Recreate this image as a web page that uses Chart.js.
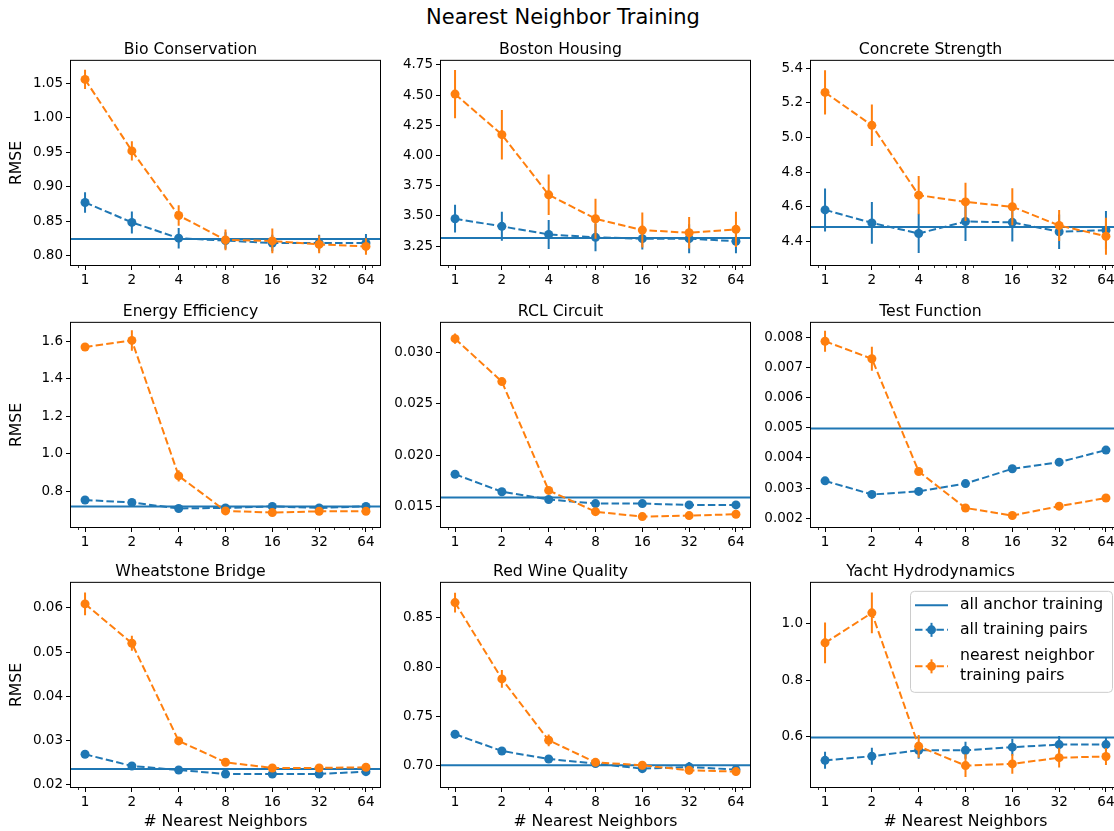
<!DOCTYPE html>
<html>
<head>
<meta charset="utf-8">
<script src="https://cdn.jsdelivr.net/npm/chart.js@4/dist/chart.umd.min.js"></script>
<style>
  html, body { margin: 0; padding: 0; background: #fff; overflow: hidden; }
  body { width: 1114px; height: 831px; position: relative; }
  #suptitle {
    position: absolute; left: 0; top: 5px; width: 1126px; text-align: center;
    font-family: "DejaVu Sans", sans-serif; font-size: 21px; line-height: 24px; color: #000;
  }
  canvas { position: absolute; }
</style>
</head>
<body>
<div id="suptitle">Nearest Neighbor Training</div>

<script>
// ---- data ----
const neighbors = [1, 2, 4, 8, 16, 32, 64];
const xMinorTicks = [0.9, 3, 5, 6, 7, 9, 20, 30, 40, 50, 60, 70];

const panelTitles = [
    'Bio Conservation', 'Boston Housing', 'Concrete Strength',
    'Energy Efficiency', 'RCL Circuit', 'Test Function',
    'Wheatstone Bridge', 'Red Wine Quality', 'Yacht Hydrodynamics'
];

const legendLabels = ['all anchor training', 'all training pairs', 'nearest neighbor\ntraining pairs'];

// horizontal line: all anchor training
const anchorRmse = [0.824, 3.316, 4.483, 0.7175, 0.01588, 0.00498, 0.02355, 0.7007, 0.598];

// all training pairs (blue)
const allPairsRmse = [
    [0.877, 0.848, 0.825, 0.8215, 0.818, 0.818, 0.818],
    [3.476, 3.413, 3.346, 3.322, 3.311, 3.311, 3.29],
    [4.582, 4.507, 4.446, 4.515, 4.51, 4.456, 4.465],
    [0.752, 0.739, 0.707, 0.71, 0.718, 0.71, 0.718],
    [0.01814, 0.01644, 0.01569, 0.01529, 0.01529, 0.01516, 0.01516],
    [0.00324, 0.00279, 0.00289, 0.00315, 0.00364, 0.00386, 0.00426],
    [0.02687, 0.02423, 0.02332, 0.02242, 0.02242, 0.02242, 0.02294],
    [0.7321, 0.7152, 0.7071, 0.7024, 0.6973, 0.699, 0.6963],
    [0.5176, 0.532, 0.553, 0.553, 0.564, 0.573, 0.573]
];
const allPairsErr = [
    [0.015, 0.016, 0.015, 0.012, 0.012, 0.012, 0.013],
    [0.115, 0.12, 0.12, 0.115, 0.09, 0.12, 0.1],
    [0.124, 0.12, 0.113, 0.113, 0.11, 0.1, 0.11],
    [0.012, 0.01, 0.01, 0.01, 0.01, 0.01, 0.01],
    [0.0002, 0.0002, 0.0002, 0.0002, 0.0002, 0.0002, 0.0002],
    [0.0001, 0.0001, 0.0001, 0.0001, 0.0001, 0.0001, 0.0001],
    [0.0006, 0.0005, 0.0005, 0.0005, 0.0005, 0.0005, 0.0005],
    [0.004, 0.004, 0.004, 0.003, 0.003, 0.005, 0.004],
    [0.03, 0.03, 0.03, 0.03, 0.03, 0.03, 0.025]
];

// nearest neighbor training pairs (orange)
const nnPairsRmse = [
    [1.056, 0.952, 0.858, 0.8225, 0.821, 0.816, 0.813],
    [4.508, 4.172, 3.674, 3.476, 3.382, 3.36, 3.388],
    [5.26, 5.07, 4.667, 4.628, 4.6, 4.492, 4.43],
    [1.57, 1.605, 0.881, 0.694, 0.685, 0.692, 0.692],
    [0.03134, 0.02716, 0.01657, 0.0145, 0.01402, 0.01412, 0.01425],
    [0.00787, 0.00729, 0.00355, 0.00234, 0.00209, 0.0024, 0.00267],
    [0.0609, 0.052, 0.0299, 0.02506, 0.02378, 0.02378, 0.02393],
    [0.8655, 0.7882, 0.726, 0.7037, 0.7007, 0.6956, 0.6943],
    [0.9318, 1.0376, 0.567, 0.499, 0.505, 0.527, 0.531]
];
const nnPairsErr = [
    [0.014, 0.014, 0.015, 0.015, 0.018, 0.013, 0.012],
    [0.2, 0.205, 0.168, 0.165, 0.145, 0.13, 0.145],
    [0.127, 0.12, 0.11, 0.11, 0.107, 0.09, 0.107],
    [0.02, 0.055, 0.03, 0.01, 0.01, 0.01, 0.01],
    [0.0005, 0.0003, 0.0003, 0.0002, 0.0002, 0.0002, 0.0002],
    [0.00035, 0.0004, 0.0001, 0.0001, 0.0001, 0.0001, 0.0001],
    [0.0026, 0.0017, 0.0005, 0.0005, 0.0005, 0.0005, 0.0005],
    [0.01, 0.009, 0.006, 0.004, 0.004, 0.004, 0.004],
    [0.072, 0.072, 0.04, 0.04, 0.035, 0.035, 0.03]
];

const yTicks = [
    ['0.80', '0.85', '0.90', '0.95', '1.00', '1.05'],
    ['3.25', '3.50', '3.75', '4.00', '4.25', '4.50', '4.75'],
    ['4.4', '4.6', '4.8', '5.0', '5.2', '5.4'],
    ['0.8', '1.0', '1.2', '1.4', '1.6'],
    ['0.015', '0.020', '0.025', '0.030'],
    ['0.002', '0.003', '0.004', '0.005', '0.006', '0.007', '0.008'],
    ['0.02', '0.03', '0.04', '0.05', '0.06'],
    ['0.70', '0.75', '0.80', '0.85'],
    ['0.6', '0.8', '1.0']
];
const yMin = [0.786, 3.093, 4.264, 0.608, 0.01301, 0.00171, 0.01947, 0.6787, 0.4235];
const yMax = [1.083, 4.783, 5.442, 1.699, 0.03288, 0.00848, 0.06566, 0.8855, 1.1435];

// ---- layout ----
const BLUE = '#1f77b4';
const ORANGE = '#ff7f0e';
const col_left = [71, 441, 811];
const row_top = [61, 323, 583];
const plot_w = 309;
const plot_h = 204;
const y_axis_w = 70;
const title_block = 22;
const pad_right = 10;
const x_min = Math.pow(2, -0.3);
const x_max = Math.pow(2, 6.3);

Chart.defaults.font.family = '"DejaVu Sans", sans-serif';
Chart.defaults.color = '#000';

// vertical error bars, drawn just before each series
const errorBars = {
    id: 'errorBars',
    beforeDatasetDraw(chart, args) {
        const ds = chart.data.datasets[args.index];
        if (!ds.errors) return;
        const xs = chart.scales.x, ys = chart.scales.y, ctx = chart.ctx;
        const area = chart.chartArea;
        ctx.save();
        ctx.beginPath();
        ctx.rect(area.left, area.top, area.right - area.left, area.bottom - area.top);
        ctx.clip();
        ctx.strokeStyle = ds.borderColor;
        ctx.lineWidth = 2;
        ds.data.forEach((p, i) => {
            const px = xs.getPixelForValue(p.x);
            ctx.beginPath();
            ctx.moveTo(px, ys.getPixelForValue(p.y - ds.errors[i]));
            ctx.lineTo(px, ys.getPixelForValue(p.y + ds.errors[i]));
            ctx.stroke();
        });
        ctx.restore();
    }
};

// full box around the axes and the minor x ticks
const frame = {
    id: 'frame',
    afterDraw(chart) {
        const {left, top, right, bottom} = chart.chartArea;
        const ctx = chart.ctx;
        ctx.save();
        ctx.strokeStyle = '#000';
        ctx.lineWidth = 1;
        ctx.strokeRect(left - 0.5, top - 0.5, right - left + 1, bottom - top + 1);
        ctx.lineWidth = 0.8;
        xMinorTicks.forEach(v => {
            const px = Math.round(chart.scales.x.getPixelForValue(v)) + 0.5;
            ctx.beginPath();
            ctx.moveTo(px, bottom);
            ctx.lineTo(px, bottom + 3);
            ctx.stroke();
        });
        ctx.restore();
    }
};

// matplotlib style legend box (only in the last panel)
const legendBox = {
    id: 'legendBox',
    afterDraw(chart, args, opts) {
        if (!opts.show) return;
        const ctx = chart.ctx;
        const w = 202, h = 101;
        const x0 = chart.chartArea.right - 8 - w;
        const y0 = chart.chartArea.top + 8;
        ctx.save();
        ctx.beginPath();
        ctx.roundRect(x0 + 0.5, y0 + 0.5, w, h, 4);
        ctx.fillStyle = 'rgba(255,255,255,0.8)';
        ctx.fill();
        ctx.strokeStyle = '#cccccc';
        ctx.lineWidth = 1;
        ctx.stroke();

        const hx0 = x0 + 5, hx1 = x0 + 38, mx = x0 + 21.5;
        // solid line
        ctx.strokeStyle = BLUE;
        ctx.lineWidth = 2;
        ctx.beginPath();
        ctx.moveTo(hx0, y0 + 14.5);
        ctx.lineTo(hx1, y0 + 14.5);
        ctx.stroke();

        const handle = (color, y) => {
            ctx.strokeStyle = color;
            ctx.fillStyle = color;
            ctx.lineWidth = 2;
            ctx.setLineDash([7.5, 3.2]);
            ctx.beginPath();
            ctx.moveTo(hx0, y);
            ctx.lineTo(hx1, y);
            ctx.stroke();
            ctx.setLineDash([]);
            ctx.beginPath();
            ctx.moveTo(mx, y - 7);
            ctx.lineTo(mx, y + 7);
            ctx.stroke();
            ctx.beginPath();
            ctx.arc(mx, y, 4.5, 0, Math.PI * 2);
            ctx.fill();
        };
        handle(BLUE, y0 + 39);
        handle(ORANGE, y0 + 75.5);

        ctx.fillStyle = '#000';
        ctx.font = '15.7px "DejaVu Sans", sans-serif';
        ctx.textBaseline = 'middle';
        ctx.fillText(legendLabels[0], x0 + 50, y0 + 14.5);
        ctx.fillText(legendLabels[1], x0 + 50, y0 + 39);
        const lines = legendLabels[2].split('\n');
        ctx.fillText(lines[0], x0 + 50, y0 + 65.5);
        ctx.fillText(lines[1], x0 + 50, y0 + 85.5);
        ctx.restore();
    }
};

function make_panel(i) {
    const col = i % 3, row = Math.floor(i / 3);
    const bottom_row = row === 2;
    const x_axis_h = bottom_row ? 44 : 28;

    const canvas = document.createElement('canvas');
    const cw = y_axis_w + plot_w + pad_right;
    const ch = title_block + plot_h + x_axis_h;
    canvas.width = cw;
    canvas.height = ch;
    canvas.style.left = (col_left[col] - y_axis_w) + 'px';
    canvas.style.top = (row_top[row] - title_block) + 'px';
    canvas.style.width = cw + 'px';
    canvas.style.height = ch + 'px';
    document.body.appendChild(canvas);

    const pts = (vals) => neighbors.map((n, k) => ({x: n, y: vals[k]}));

    new Chart(canvas, {
        type: 'line',
        data: {
            datasets: [{
                label: legendLabels[2],
                data: pts(nnPairsRmse[i]),
                errors: nnPairsErr[i],
                borderColor: ORANGE,
                backgroundColor: ORANGE,
                borderWidth: 2,
                borderDash: [7.5, 3.2],
                pointRadius: 4.5,
                pointBorderWidth: 0,
                order: 0,
            }, {
                label: legendLabels[1],
                data: pts(allPairsRmse[i]),
                errors: allPairsErr[i],
                borderColor: BLUE,
                backgroundColor: BLUE,
                borderWidth: 2,
                borderDash: [7.5, 3.2],
                pointRadius: 4.5,
                pointBorderWidth: 0,
                order: 1,
            }, {
                label: legendLabels[0],
                data: [{x: x_min, y: anchorRmse[i]}, {x: x_max, y: anchorRmse[i]}],
                borderColor: BLUE,
                borderWidth: 2,
                pointRadius: 0,
                order: 2,
            }]
        },
        options: {
            responsive: false,
            animation: false,
            devicePixelRatio: 1,
            layout: {padding: {top: 0, left: 0, right: pad_right, bottom: 0}},
            plugins: {
                legend: {display: false},
                tooltip: {enabled: false},
                title: {
                    display: true,
                    text: panelTitles[i],
                    color: '#000',
                    font: {size: 15.7, weight: 'normal'},
                    padding: {top: 2, bottom: 1}
                },
                legendBox: {show: i === 8}
            },
            scales: {
                x: {
                    type: 'logarithmic',
                    min: x_min,
                    max: x_max,
                    afterBuildTicks: s => { s.ticks = neighbors.map(v => ({value: v})); },
                    afterFit: s => { s.height = x_axis_h; },
                    ticks: {
                        autoSkip: false, maxRotation: 0, padding: 2,
                        font: {size: 13.5}, color: '#000',
                        callback: v => String(v)
                    },
                    grid: {drawOnChartArea: false, tickLength: 5, color: '#000', lineWidth: 1},
                    border: {display: false},
                    title: {
                        display: bottom_row,
                        text: '# Nearest Neighbors',
                        font: {size: 15.7},
                        color: '#000',
                        padding: {top: 0, bottom: 0}
                    }
                },
                y: {
                    type: 'linear',
                    min: yMin[i],
                    max: yMax[i],
                    afterBuildTicks: s => { s.ticks = yTicks[i].map(t => ({value: parseFloat(t)})); },
                    afterFit: s => { s.width = y_axis_w; },
                    ticks: {
                        padding: 3, font: {size: 13.5}, color: '#000',
                        callback: (v, idx) => yTicks[i][idx]
                    },
                    grid: {drawOnChartArea: false, tickLength: 5, color: '#000', lineWidth: 1},
                    border: {display: false},
                    title: {
                        display: col === 0,
                        text: 'RMSE',
                        font: {size: 15.7},
                        color: '#000',
                        padding: {top: 7, bottom: 0}
                    }
                }
            }
        },
        plugins: [errorBars, frame, legendBox]
    });
}

for (let i = 0; i < 9; i++) {
    make_panel(i);
}
</script>
</body>
</html>
